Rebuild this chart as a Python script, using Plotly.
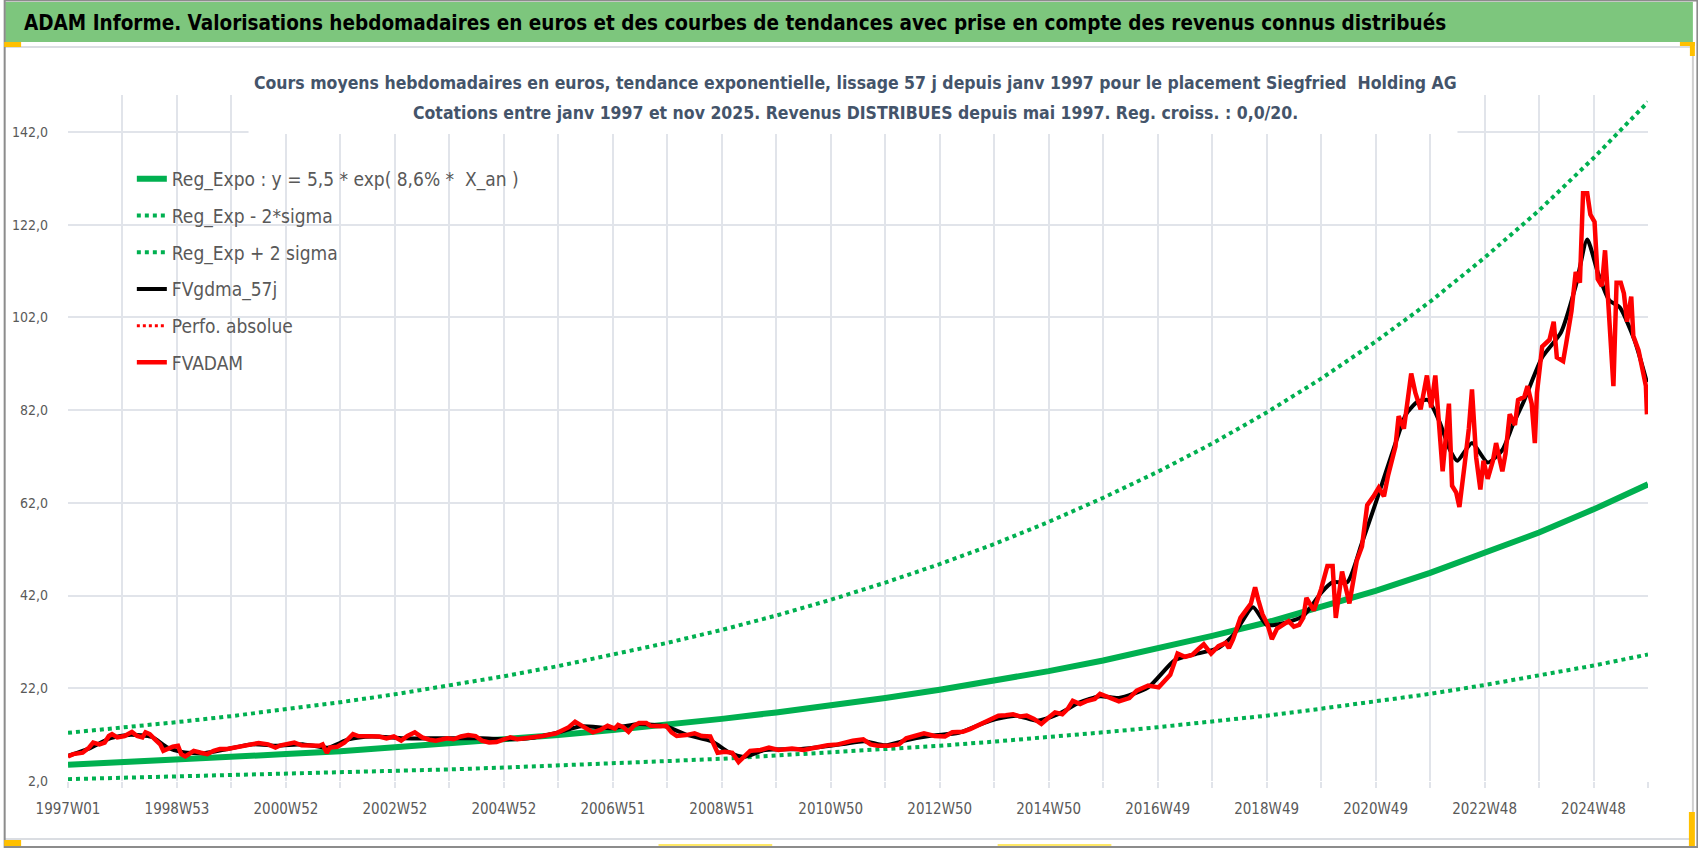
import plotly.graph_objects as go

# --- data (x = week index since 1997W01) ---
TICK_LABELS = ["1997W01", "1998W53", "2000W52", "2002W52", "2004W52", "2006W51", "2008W51",
               "2010W50", "2012W50", "2014W50", "2016W49", "2018W49", "2020W49", "2022W48", "2024W48"]
TICK_WEEKS = [i * 104 for i in range(len(TICK_LABELS))]

TREND_WEEKS = list(range(0, 1509, 52))
REG_EXPO = [5.5, 6.0, 6.5, 7.1, 7.8, 8.4, 9.2, 10.0, 10.9, 11.9, 13.0, 14.1, 15.4, 16.8, 18.3,
            19.9, 21.7, 23.6, 25.7, 28.0, 30.5, 33.3, 36.2, 39.5, 43.0, 46.9, 51.1, 55.6, 60.6, 66.0]
REG_MINUS = [2.4, 2.7, 2.9, 3.2, 3.4, 3.8, 4.1, 4.5, 4.9, 5.3, 5.8, 6.3, 6.8, 7.5, 8.1,
             8.8, 9.6, 10.5, 11.4, 12.5, 13.6, 14.8, 16.1, 17.6, 19.1, 20.8, 22.7, 24.7, 26.9, 29.3]
REG_PLUS = [12.4, 13.5, 14.7, 16.0, 17.4, 19.0, 20.7, 22.6, 24.6, 26.8, 29.2, 31.8, 34.6, 37.7, 41.1,
            44.8, 48.8, 53.1, 57.9, 63.1, 68.7, 74.8, 81.5, 88.8, 96.8, 105.4, 114.9, 125.1, 136.4, 148.5]

FVADAM_WEEKS = [0, 5, 14, 20, 24, 30, 35, 39, 42, 47, 54, 61, 66, 71, 74, 78, 83, 88, 91, 95, 100, 105,
                108, 112, 115, 120, 127, 133, 139, 145, 152, 159, 166, 172, 182, 191, 198, 203, 209, 216,
                223, 230, 240, 243, 247, 250, 257, 264, 269, 272, 277, 284, 291, 297, 304, 311, 318, 324,
                331, 338, 345, 351, 362, 368, 375, 382, 389, 395, 402, 409, 416, 422, 429, 436, 443, 453,
                466, 471, 478, 484, 491, 501, 508, 515, 522, 525, 530, 535, 540, 545, 552, 556, 566, 571,
                576, 581, 590, 598, 605, 613, 617, 620, 627, 634, 640, 646, 651, 661, 669, 678, 691, 702,
                712, 725, 735, 742, 749, 759, 766, 773, 783, 793, 800, 808, 817, 827, 837, 844, 854, 861,
                871, 881, 888, 895, 902, 909, 915, 922, 929, 936, 942, 949, 954, 959, 966, 973, 980, 985,
                1003, 1013, 1020, 1031, 1041, 1052, 1059, 1066, 1073, 1080, 1084, 1091, 1098, 1105, 1108,
                1112, 1119, 1129, 1133, 1136, 1140, 1145, 1149, 1154, 1159, 1165, 1170, 1175, 1179, 1182,
                1189, 1196, 1202, 1207, 1210, 1216, 1223, 1230, 1235, 1240, 1246, 1251, 1256, 1260, 1267,
                1270, 1275, 1279, 1282, 1286, 1291, 1297, 1301, 1305, 1309, 1312, 1318, 1321, 1325, 1328,
                1333, 1337, 1340, 1344, 1348, 1351, 1355, 1360, 1363, 1369, 1372, 1376, 1381, 1384, 1390,
                1393, 1397, 1400, 1402, 1407, 1414, 1418, 1421, 1427, 1430, 1435, 1439, 1443, 1446, 1450,
                1453, 1457, 1460, 1464, 1467, 1471, 1475, 1478, 1482, 1485, 1488, 1492, 1494, 1499, 1502,
                1506, 1507]
FVADAM = [7.3, 7.8, 8.1, 9.2, 10.3, 9.9, 10.3, 11.7, 12.1, 11.4, 11.7, 12.6, 11.7, 11.4, 12.5, 12.1,
          11.0, 9.9, 8.5, 8.9, 9.4, 9.6, 7.8, 7.3, 7.8, 8.5, 8.1, 7.8, 8.5, 8.9, 8.9, 9.2, 9.7, 9.9,
          10.2, 9.9, 9.2, 9.7, 9.9, 10.3, 9.7, 9.6, 9.6, 9.9, 8.1, 9.2, 9.4, 10.3, 11.4, 12.1, 11.7,
          11.6, 11.7, 11.6, 11.2, 11.6, 10.7, 11.7, 12.5, 11.4, 10.9, 10.7, 11.2, 11.0, 11.6, 11.9,
          11.7, 10.7, 10.3, 10.4, 11.0, 11.4, 11.0, 11.2, 11.6, 11.7, 12.3, 12.8, 13.6, 14.8, 13.9,
          12.5, 13.0, 13.9, 13.3, 14.1, 13.6, 12.6, 13.9, 14.5, 14.5, 13.9, 13.8, 13.9, 12.5, 11.7,
          11.9, 12.3, 11.7, 11.6, 9.6, 8.1, 8.3, 8.1, 6.1, 7.4, 8.5, 8.7, 9.2, 8.7, 9.0, 8.7, 9.2,
          9.7, 9.9, 10.3, 10.7, 11.0, 9.9, 9.6, 9.6, 9.9, 11.2, 11.7, 12.3, 11.7, 11.6, 12.5, 12.6,
          13.2, 14.3, 15.4, 16.1, 16.2, 16.4, 15.9, 16.1, 15.4, 14.3, 15.7, 16.8, 16.4, 17.5, 19.3,
          18.6, 19.3, 19.7, 20.8, 19.2, 19.9, 21.5, 22.6, 22.2, 24.9, 29.5, 28.8, 29.2, 30.7, 31.5,
          29.5, 31.1, 31.8, 30.7, 32.6, 37.2, 40.3, 43.8, 41.1, 38.0, 35.7, 32.6, 34.9, 35.7, 36.5,
          35.3, 35.7, 37.2, 41.5, 38.8, 43.4, 48.4, 48.4, 37.2, 47.2, 40.3, 49.5, 52.6, 61.5, 63.4,
          65.3, 63.4, 68.0, 74.2, 80.7, 78.0, 85.7, 89.9, 85.7, 82.2, 89.5, 82.6, 89.5, 76.5, 68.8,
          83.4, 65.7, 64.2, 61.1, 70.3, 78.0, 86.5, 71.8, 64.9, 71.1, 67.2, 71.1, 74.9, 68.8, 72.6,
          81.1, 78.8, 84.2, 84.9, 87.2, 83.4, 74.9, 85.7, 95.7, 97.2, 101.1, 93.4, 92.6, 96.5, 103.4,
          111.8, 109.5, 128.8, 128.8, 124.2, 122.6, 110.3, 108.8, 116.5, 102.6, 87.2, 109.5, 109.5,
          107.2, 101.1, 106.5, 98.0, 94.9, 91.8, 87.2, 81.1]

GDMA_WEEKS = [0, 20, 40, 60, 80, 95, 110, 130, 150, 175, 200, 225, 248, 268, 290, 320, 345, 370, 395,
              420, 445, 470, 490, 520, 545, 570, 590, 615, 630, 645, 665, 700, 740, 760, 780, 800, 825,
              850, 880, 905, 925, 945, 965, 985, 1003, 1031, 1056, 1073, 1098, 1112, 1131, 1144, 1161,
              1179, 1196, 1207, 1221, 1235, 1249, 1267, 1277, 1288, 1298, 1309, 1319, 1326, 1340, 1355,
              1369, 1379, 1390, 1407, 1425, 1439, 1450, 1460, 1471, 1481, 1495, 1507]
GDMA = [7.4, 9.0, 11.2, 12.0, 11.5, 9.2, 8.2, 8.0, 8.8, 9.9, 9.6, 9.9, 9.2, 11.0, 11.6, 11.2, 11.2,
        11.2, 11.2, 11.0, 11.4, 12.6, 13.8, 13.4, 14.3, 13.8, 12.0, 10.5, 8.3, 7.2, 8.7, 8.9, 10.0,
        10.6, 9.7, 10.8, 11.8, 12.4, 15.0, 16.1, 15.0, 16.4, 18.9, 20.3, 19.9, 22.2, 28.0, 29.2, 30.7,
        33.4, 39.5, 35.7, 36.1, 37.6, 42.6, 44.9, 44.9, 53.4, 62.6, 74.9, 81.1, 83.8, 84.2, 79.5, 73.4,
        71.1, 74.9, 70.7, 73.4, 78.8, 84.2, 93.4, 98.8, 108.8, 118.8, 111.8, 105.7, 104.2, 97.2, 88.0]

Y_TICKS = [2, 22, 42, 62, 82, 102, 122, 142]

HEADER = ("ADAM Informe. Valorisations hebdomadaires en euros et des courbes de tendances "
          "avec prise en compte des revenus connus distribués")
SUB1 = ("Cours moyens hebdomadaires en euros, tendance exponentielle, lissage 57 j depuis janv 1997 "
        "pour le placement Siegfried  Holding AG")
SUB2 = "Cotations entre janv 1997 et nov 2025. Revenus DISTRIBUES depuis mai 1997. Reg. croiss. : 0,0/20."

FONT = "DejaVu Sans Condensed, Liberation Sans Narrow, sans-serif"
GREEN = "#00B050"
GRID = "#E1E4EA"
TXT = "#595959"

W, H = 1698, 848
L, R, T, B = 64, 1648, 95, 781


def px(x):
    return (x - L) / (R - L)


def py(y):
    return (B - y) / (B - T)


fig = go.Figure()

fig.add_trace(go.Scatter(x=TREND_WEEKS, y=REG_EXPO, mode="lines", name="Reg_Expo : y = 5,5 * exp( 8,6% *  X_an )",
                         line=dict(color=GREEN, width=6), legendgroup="a"))
fig.add_trace(go.Scatter(x=TREND_WEEKS, y=REG_MINUS, mode="lines", name="Reg_Exp - 2*sigma",
                         line=dict(color=GREEN, width=4, dash="dot"), legendgroup="b"))
fig.add_trace(go.Scatter(x=TREND_WEEKS, y=REG_PLUS, mode="lines", name="Reg_Exp + 2 sigma",
                         line=dict(color=GREEN, width=4, dash="dot"), legendgroup="c"))
fig.add_trace(go.Scatter(x=GDMA_WEEKS, y=GDMA, mode="lines", name="FVgdma_57j",
                         line=dict(color="black", width=4, shape="spline", smoothing=0.6), legendgroup="d"))
fig.add_trace(go.Scatter(x=[None], y=[None], mode="lines", name="Perfo. absolue",
                         line=dict(color="#FF0000", width=3, dash="dot"), legendgroup="e"))
fig.add_trace(go.Scatter(x=FVADAM_WEEKS, y=FVADAM, mode="lines", name="FVADAM",
                         line=dict(color="#FF0000", width=4.5), legendgroup="f"))

shapes = [
    # white box behind the chart title
    dict(type="rect", xref="paper", yref="paper", x0=px(245), x1=px(1457), y0=py(134), y1=py(90),
         fillcolor="white", line=dict(width=0), layer="above"),
    # header band
    dict(type="rect", xref="paper", yref="paper", x0=px(1), x1=px(1693), y0=py(42), y1=py(2),
         fillcolor="#7DC67D", line=dict(width=0)),
    dict(type="line", xref="paper", yref="paper", x0=px(0), x1=px(1693), y0=py(47), y1=py(47),
         line=dict(color="#DADDE2", width=2)),
    dict(type="line", xref="paper", yref="paper", x0=px(0), x1=px(1693), y0=py(839), y1=py(839),
         line=dict(color="#DADDE2", width=2)),
    dict(type="line", xref="paper", yref="paper", x0=px(1693), x1=px(1693), y0=py(44), y1=py(840),
         line=dict(color="#D0D0D0", width=2)),
    # window frame
    dict(type="rect", xref="paper", yref="paper", x0=px(0.5), x1=px(1697.5), y0=py(847), y1=py(0.5),
         line=dict(color="#8C8C8C", width=2)),
    # selection handles
    dict(type="rect", xref="paper", yref="paper", x0=px(0), x1=px(17), y0=py(47), y1=py(42),
         fillcolor="#FFC000", line=dict(width=0)),
    dict(type="rect", xref="paper", yref="paper", x0=px(1680), x1=px(1695), y0=py(46), y1=py(42),
         fillcolor="#FFC000", line=dict(width=0)),
    dict(type="rect", xref="paper", yref="paper", x0=px(1690), x1=px(1695), y0=py(56), y1=py(42),
         fillcolor="#FFC000", line=dict(width=0)),
    dict(type="rect", xref="paper", yref="paper", x0=px(0), x1=px(17), y0=py(846), y1=py(840),
         fillcolor="#FFC000", line=dict(width=0)),
    dict(type="rect", xref="paper", yref="paper", x0=px(1689), x1=px(1695), y0=py(846), y1=py(812),
         fillcolor="#FFC000", line=dict(width=0)),
    dict(type="line", xref="paper", yref="paper", x0=px(656), x1=px(770), y0=py(845), y1=py(845),
         line=dict(color="#FFE866", width=2)),
    dict(type="line", xref="paper", yref="paper", x0=px(996), x1=px(1110), y0=py(845), y1=py(845),
         line=dict(color="#FFE866", width=2)),
]

annotations = [
    dict(text=f"<b>{HEADER}</b>", xref="paper", yref="paper", x=px(733), y=py(23), showarrow=False,
         xanchor="center", yanchor="middle", font=dict(family=FONT, size=20.5, color="black")),
    dict(text=f"<b>{SUB1}</b>", xref="paper", yref="paper", x=px(853), y=py(83), showarrow=False,
         xanchor="center", yanchor="middle", font=dict(family=FONT, size=17.5, color="#44546A")),
    dict(text=f"<b>{SUB2}</b>", xref="paper", yref="paper", x=px(853), y=py(113), showarrow=False,
         xanchor="center", yanchor="middle", font=dict(family=FONT, size=17.5, color="#44546A")),
]

fig.update_layout(
    width=W, height=H, autosize=False,
    margin=dict(l=L, r=W - R, t=T, b=H - B, pad=0),
    paper_bgcolor="white", plot_bgcolor="white",
    separators=", ",
    font=dict(family=FONT, color=TXT),
    showlegend=True,
    legend=dict(x=px(128), y=py(160), xanchor="left", yanchor="top", traceorder="grouped",
                tracegroupgap=9, bgcolor="rgba(0,0,0,0)", font=dict(family=FONT, size=19, color=TXT)),
    shapes=shapes,
    annotations=annotations,
    xaxis=dict(range=[0, 1508], tickmode="array", tickvals=TICK_WEEKS, ticktext=TICK_LABELS,
               showgrid=True, gridcolor=GRID, gridwidth=1.5, zeroline=False, showline=False,
               ticks="outside", ticklen=6, tickcolor=GRID, tickwidth=1.5, ticklabelstandoff=8,
               tickfont=dict(family=FONT, size=15, color=TXT),
               minor=dict(tick0=0, dtick=52, showgrid=True, gridcolor=GRID, gridwidth=1.5,
                          ticks="outside", ticklen=6, tickcolor=GRID, tickwidth=1.5)),
    yaxis=dict(range=[2, 150], tickmode="array", tickvals=Y_TICKS, tickformat=".1f",
               showgrid=True, gridcolor=GRID, gridwidth=1.5, zeroline=False, showline=False,
               ticks="", ticklabelstandoff=19, tickfont=dict(family=FONT, size=14, color=TXT)),
)

fig.write_html("out.html", config={"displayModeBar": False},
               post_script="document.body.style.margin='0px';")
